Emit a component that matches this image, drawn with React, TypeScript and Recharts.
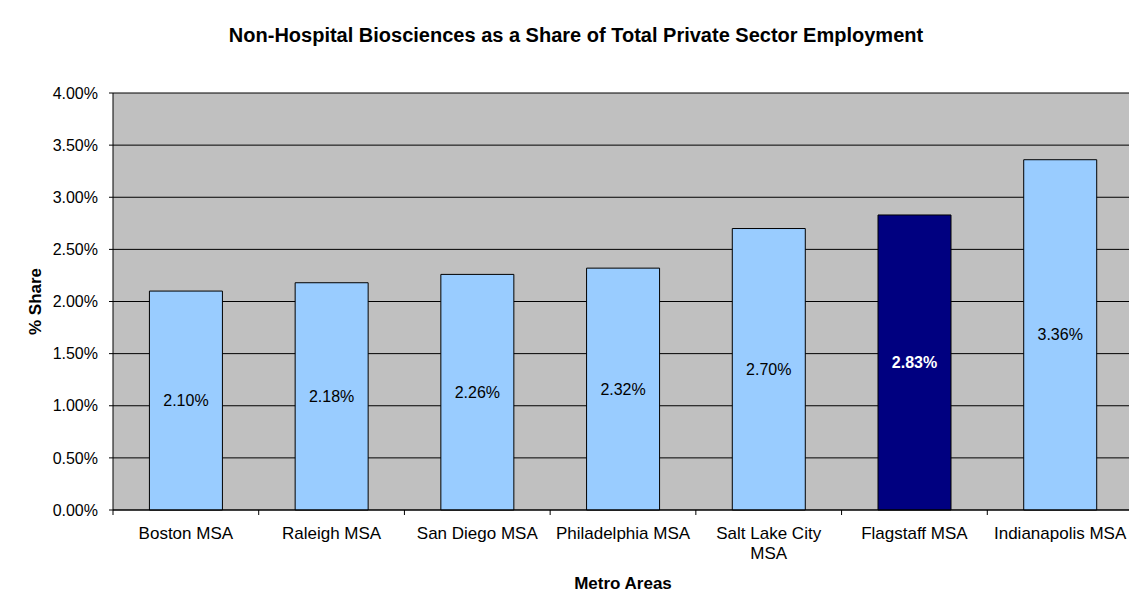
import React from 'react';
import {
    BarChart,
    Bar,
    XAxis,
    YAxis,
    CartesianGrid,
    Cell,
    LabelList,
} from 'recharts';

const CATEGORIES = [
    'Boston MSA',
    'Raleigh MSA',
    'San Diego MSA',
    'Philadelphia MSA',
    'Salt Lake City MSA',
    'Flagstaff MSA',
    'Indianapolis MSA',
];
const SHARES = [2.10, 2.18, 2.26, 2.32, 2.70, 2.83, 3.36];
const Y_TICKS = [0, 0.5, 1, 1.5, 2, 2.5, 3, 3.5, 4];
const HIGHLIGHT = 'Flagstaff MSA';

const FONT = "Arial, 'Liberation Sans', sans-serif";
const LIGHT = '#99CCFF';
const DARK = '#000080';

const data = CATEGORIES.map((name, i) => ({ name, share: SHARES[i] }));

// word wrap for the category labels, measured with a canvas
let measureCtx: CanvasRenderingContext2D | null = null;
function wrapWords(text: string, maxWidth: number, font: string): string[] {
    if (!measureCtx) measureCtx = document.createElement('canvas').getContext('2d');
    const ctx = measureCtx!;
    ctx.font = font;
    const words = text.split(' ');
    const lines: string[] = [];
    let cur = '';
    words.forEach((w) => {
        const next = cur ? cur + ' ' + w : w;
        if (cur && ctx.measureText(next).width > maxWidth) {
            lines.push(cur);
            cur = w;
        } else {
            cur = next;
        }
    });
    if (cur) lines.push(cur);
    return lines;
}

// x tick: label plus a small divider mark on the band edge
function CategoryTick(props: any) {
    const { x, y, payload, index } = props;
    const off = payload.offset || 0;
    const axisY = y - 17;
    const lines = wrapWords(String(payload.value), 135, '17px Arial, "Liberation Sans", sans-serif');
    return (
        <g>
            {index === 0 && (
                <line x1={x - off} x2={x - off} y1={axisY} y2={axisY + 5} stroke="#000" />
            )}
            <line x1={x + off} x2={x + off} y1={axisY} y2={axisY + 5} stroke="#000" />
            <text x={x} y={y + 12} textAnchor="middle" fontSize={17} fontFamily={FONT} fill="#000">
                {lines.map((ln, i) => (
                    <tspan key={i} x={x} dy={i === 0 ? 0 : 20}>
                        {ln}
                    </tspan>
                ))}
            </text>
        </g>
    );
}

function ValueLabel(props: any) {
    const { x, y, width, height, value, index } = props;
    const hot = CATEGORIES[index] === HIGHLIGHT;
    return (
        <text
            x={x + width / 2}
            y={y + height / 2}
            textAnchor="middle"
            dominantBaseline="central"
            fontSize={16}
            fontFamily={FONT}
            fontWeight={hot ? 'bold' : 'normal'}
            fill={hot ? '#fff' : '#000'}
        >
            {Number(value).toFixed(2)}%
        </text>
    );
}

export default function App() {
    return (
        <div style={{ position: 'relative', width: 1137, height: 611, margin: -8, overflow: 'hidden', background: '#fff' }}>
            <div
                style={{
                    position: 'absolute',
                    left: 6,
                    width: 1140,
                    top: 24,
                    textAlign: 'center',
                    fontFamily: FONT,
                    fontWeight: 'bold',
                    fontSize: 20,
                    color: '#000',
                }}
            >
                Non-Hospital Biosciences as a Share of Total Private Sector Employment
            </div>
            <div style={{ position: 'absolute', left: 0, top: 0 }}>
                <BarChart
                    width={1137}
                    height={611}
                    data={data}
                    margin={{ top: 93, right: 4, bottom: 0, left: 0 }}
                    barCategoryGap="25%"
                >
                    <CartesianGrid
                        vertical={false}
                        stroke="#000"
                        fill="#C0C0C0"
                        fillOpacity={1}
                    />
                    <XAxis
                        dataKey="name"
                        height={101}
                        tickLine={false}
                        tickSize={6}
                        tickMargin={11}
                        interval={0}
                        stroke="#000"
                        tick={<CategoryTick />}
                        label={{
                            value: 'Metro Areas',
                            position: 'insideBottom',
                            offset: 22,
                            fontSize: 17,
                            fontWeight: 'bold',
                            fontFamily: FONT,
                            fill: '#000',
                        }}
                    />
                    <YAxis
                        width={113}
                        domain={[0, 4]}
                        ticks={Y_TICKS}
                        interval={0}
                        tickSize={4}
                        tickMargin={11}
                        stroke="#000"
                        tickFormatter={(v: number) => v.toFixed(2) + '%'}
                        tick={{ fontSize: 16, fontFamily: FONT, fill: '#000' }}
                        label={{
                            value: '% Share',
                            angle: -90,
                            position: 'insideLeft',
                            offset: 35,
                            style: { textAnchor: 'middle' },
                            fontSize: 17,
                            fontWeight: 'bold',
                            fontFamily: FONT,
                            fill: '#000',
                        }}
                    />
                    <Bar dataKey="share" stroke="#000" strokeWidth={1} isAnimationActive={false}>
                        {data.map((d) => (
                            <Cell key={d.name} fill={d.name === HIGHLIGHT ? DARK : LIGHT} />
                        ))}
                        <LabelList dataKey="share" content={<ValueLabel />} />
                    </Bar>
                </BarChart>
            </div>
            {/* outer chart frame, runs off the right/bottom edge like the source */}
            <div
                style={{
                    position: 'absolute',
                    left: 5,
                    top: 4,
                    width: 1140,
                    height: 620,
                    border: '2px solid #000',
                    pointerEvents: 'none',
                }}
            />
        </div>
    );
}
